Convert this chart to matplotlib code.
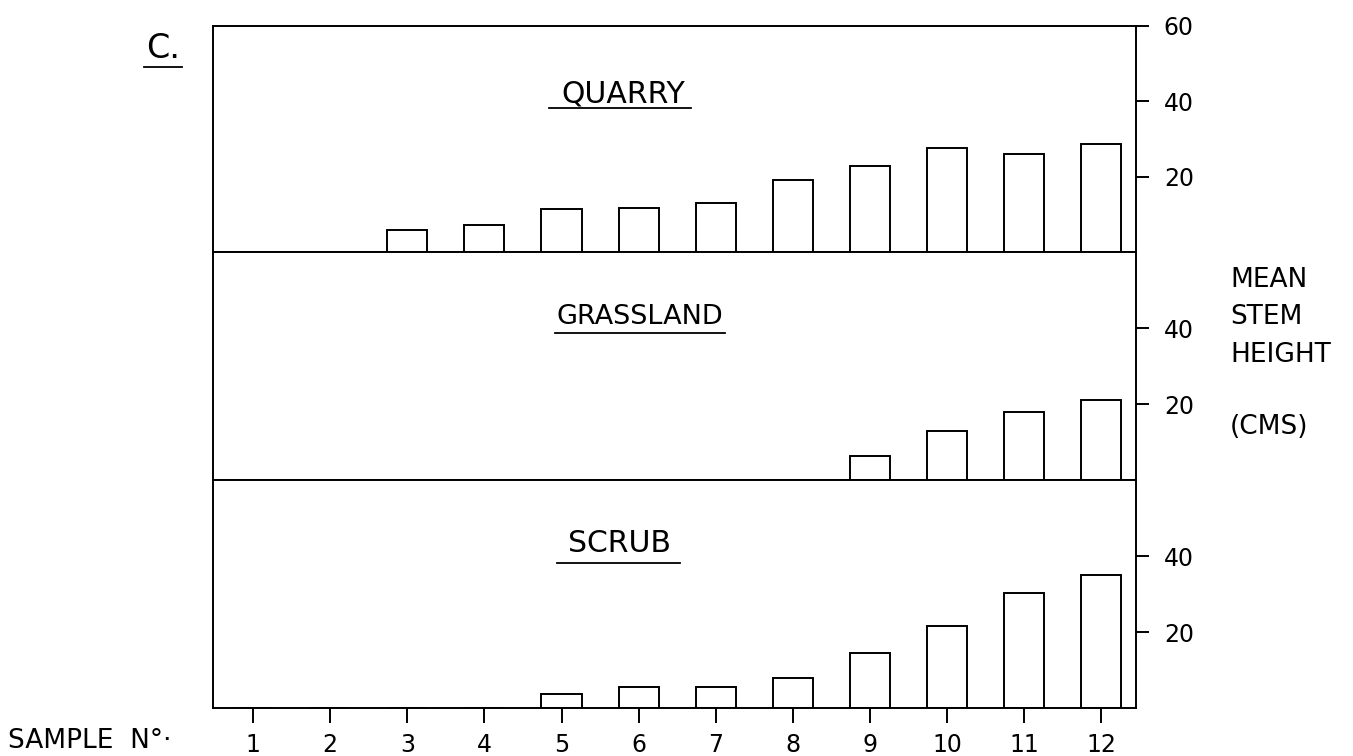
import matplotlib
matplotlib.use('Agg')
import matplotlib.pyplot as plt

# ---- data ----
samples = list(range(1, 13))
quarry = [0, 0, 5.8, 7.1, 11.3, 11.7, 13.0, 19.2, 22.9, 27.6, 26.1, 28.6]
grassland = [0, 0, 0, 0, 0, 0, 0, 0, 6.4, 12.8, 17.9, 21.0]
scrub = [0, 0, 0, 0, 3.7, 5.6, 5.6, 8.0, 14.6, 21.5, 30.3, 34.9]
panel_names = ["QUARRY", "GRASSLAND", "SCRUB"]
top_ticks = [20, 40, 60]
other_ticks = [20, 40]
x_label = "SAMPLE  N\u00b0\u00b7"
y_label_lines = ["MEAN", "STEM", "HEIGHT", "", "(CMS)"]

plt.rcParams['font.family'] = ['DejaVu Sans']
W, H = 1353, 756
fig = plt.figure(figsize=(W / 100, H / 100), dpi=100)

def box(l, t, r, b):
    return [l / W, 1 - b / H, (r - l) / W, (b - t) / H]

boxes = [(213, 26, 1136, 252), (213, 252, 1136, 480), (213, 480, 1136, 708)]
series = [quarry, grassland, scrub]
# (x centre, y centre, underline x0, x1, underline y, fontsize)
title_pos = [(0.444, 0.700, 0.364, 0.518, 0.636, 21.5),
             (0.463, 0.715, 0.370, 0.555, 0.643, 19.5),
             (0.440, 0.722, 0.373, 0.506, 0.636, 21.5)]
lw = 1.4

for i, (bx, vals, name, tp) in enumerate(zip(boxes, series, panel_names, title_pos)):
    ax = fig.add_axes(box(*bx))
    ax.bar(samples, vals, width=0.52, facecolor='white', edgecolor='black', linewidth=lw)
    ax.set_xlim(0.48, 12.45)
    ax.set_ylim(0, 60)
    for s in ax.spines.values():
        s.set_linewidth(lw)
    ax.yaxis.tick_right()
    ticks = top_ticks if i == 0 else other_ticks
    ax.set_yticks(ticks)
    ax.set_yticklabels([str(t) for t in ticks], fontsize=17)
    ax.tick_params(axis='y', direction='out', length=9, width=lw, pad=11)
    if i == 2:
        ax.set_xticks(samples)
        ax.set_xticklabels([str(s) for s in samples], fontsize=17)
        ax.tick_params(axis='x', direction='out', length=11, width=lw, pad=7)
    else:
        ax.set_xticks([])
    ax.text(tp[0], tp[1], name, transform=ax.transAxes, ha='center', va='center',
            fontsize=tp[5])
    ax.plot([tp[2], tp[3]], [tp[4], tp[4]], transform=ax.transAxes, color='black',
            linewidth=1.3, clip_on=False)

# panel letter
fig.text(146 / W, 1 - 48 / H, "C.", fontsize=24, ha='left', va='center')
fig.add_artist(plt.Line2D([144 / W, 182 / W], [1 - 67 / H, 1 - 67 / H], color='black', linewidth=1.3))

# x axis label
fig.text(8 / W, 1 - 741 / H, x_label, fontsize=19, ha='left', va='center')

# y axis label on the right
ys = [280, 317, 355, 391, 427]
for txt, y in zip(y_label_lines, ys):
    if txt:
        fig.text(1230 / W, 1 - y / H, txt, fontsize=19, ha='left', va='center')

fig.savefig('out.png', dpi=100)
